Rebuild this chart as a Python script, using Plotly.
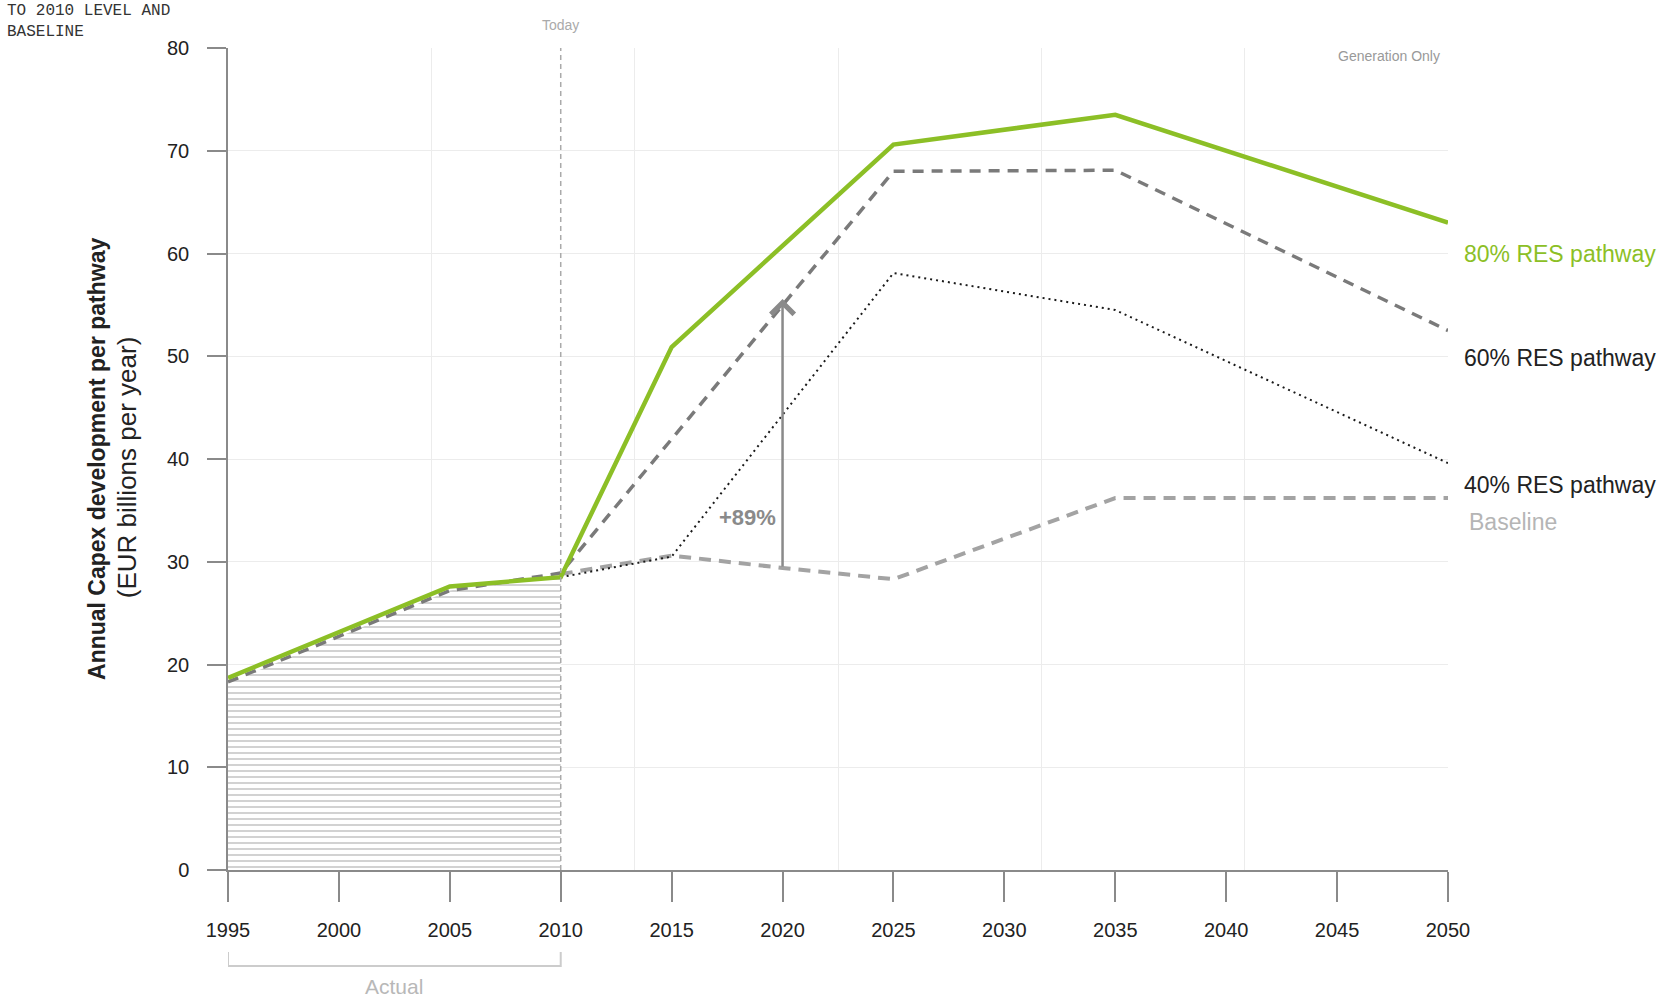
import plotly.graph_objects as go

# ---- data (EUR billions per year) ----
years_hist = [1995, 2005, 2010]
actual_hist = [18.2, 27.2, 28.9]

years_80 = [1995, 2005, 2010, 2015, 2025, 2035, 2050]
res80 = [18.7, 27.6, 28.5, 50.9, 70.6, 73.5, 63.0]

years_60 = [1995, 2005, 2010, 2025, 2035, 2050]
res60 = [18.3, 27.2, 28.9, 68.0, 68.1, 52.5]

years_40 = [2010, 2015, 2025, 2035, 2050]
res40 = [28.5, 30.5, 58.1, 54.5, 39.6]

years_base = [2010, 2015, 2020, 2025, 2035, 2050]
baseline = [28.8, 30.6, 29.4, 28.3, 36.2, 36.2]

x_ticks = [1995, 2000, 2005, 2010, 2015, 2020, 2025, 2030, 2035, 2040, 2045, 2050]
y_ticks = [0, 10, 20, 30, 40, 50, 60, 70, 80]

today_year = 2010
uplift_year = 2020
uplift_pct = 89

GREEN = "#8cbf26"
FONT = "Liberation Sans, Arial, sans-serif"

base_2020 = baseline[years_base.index(uplift_year)]
uplift_top = base_2020 * (1 + uplift_pct / 100)

fig = go.Figure()

# hatched area under the historical values
fig.add_trace(go.Scatter(
    x=years_hist, y=actual_hist, mode="lines", line=dict(width=0),
    fill="tozeroy", fillcolor="white",
    fillpattern=dict(shape="-", size=6, solidity=0.3, fgcolor="#9c9c9c", bgcolor="white"),
    hoverinfo="skip", showlegend=False,
))

fig.add_trace(go.Scatter(
    x=years_base, y=baseline, mode="lines", name="Baseline",
    line=dict(color="#a3a3a3", width=4, dash="12px,8px"), showlegend=False,
))
fig.add_trace(go.Scatter(
    x=years_40, y=res40, mode="lines", name="40% RES pathway",
    line=dict(color="#1a1a1a", width=2, dash="2px,4px"), showlegend=False,
))
fig.add_trace(go.Scatter(
    x=years_60, y=res60, mode="lines", name="60% RES pathway",
    line=dict(color="#7a7a7a", width=3.5, dash="11px,8px"), showlegend=False,
))
fig.add_trace(go.Scatter(
    x=years_80, y=res80, mode="lines", name="80% RES pathway",
    line=dict(color=GREEN, width=4.5), showlegend=False,
))

# invisible trace carrying the secondary grid axis
fig.add_trace(go.Scatter(x=[1995, 2050], y=[0, 0], xaxis="x2", mode="lines",
                         line=dict(width=0), hoverinfo="skip", showlegend=False))

# "Today" marker line
fig.add_shape(type="line", xref="x", yref="paper", x0=today_year, x1=today_year,
              y0=0, y1=1.0, line=dict(color="#aaaaaa", width=1.5, dash="5px,4px"))

# bracket under the historical period
fig.add_shape(type="path", xref="x", yref="paper",
              path=f"M {years_hist[0]},-0.0998 L {years_hist[0]},-0.1168 "
                   f"L {years_hist[-1]},-0.1168 L {years_hist[-1]},-0.0998",
              line=dict(color="#cccccc", width=2))

ann = []
# uplift arrow from baseline to 60% level
ann.append(dict(x=uplift_year, y=uplift_top, ax=uplift_year, ay=base_2020,
                xref="x", yref="y", axref="x", ayref="y", showarrow=True,
                arrowhead=4, arrowsize=1.8, arrowwidth=2.5, arrowcolor="#8a8a8a", text=""))
ann.append(dict(x=2018.4, y=34.3, xref="x", yref="y", showarrow=False,
                xanchor="center", yanchor="middle",
                text=f"<b>+{uplift_pct}%</b>", font=dict(family=FONT, size=22, color="#8a8a8a")))

# series labels on the right
ann.append(dict(x=1.0115, y=60.0, xref="paper", yref="y", xanchor="left", yanchor="middle",
                showarrow=False, text="80% RES pathway",
                font=dict(family=FONT, size=23, color=GREEN)))
ann.append(dict(x=1.0115, y=49.8, xref="paper", yref="y", xanchor="left", yanchor="middle",
                showarrow=False, text="60% RES pathway",
                font=dict(family=FONT, size=23, color="#222222")))
ann.append(dict(x=1.0115, y=37.5, xref="paper", yref="y", xanchor="left", yanchor="middle",
                showarrow=False, text="40% RES pathway",
                font=dict(family=FONT, size=23, color="#222222")))
ann.append(dict(x=1.0155, y=33.9, xref="paper", yref="y", xanchor="left", yanchor="middle",
                showarrow=False, text="Baseline",
                font=dict(family=FONT, size=23, color="#b5b5b5")))

# small notes
ann.append(dict(x=0.995, y=79.2, xref="paper", yref="y", xanchor="right", yanchor="middle",
                showarrow=False, text="Generation Only",
                font=dict(family=FONT, size=14, color="#999999")))
ann.append(dict(x=today_year, y=1.028, xref="x", yref="paper", xanchor="center",
                yanchor="middle", showarrow=False, text="Today",
                font=dict(family=FONT, size=14, color="#aaaaaa")))
ann.append(dict(x=(years_hist[0] + years_hist[-1]) / 2, y=-0.142, xref="x", yref="paper",
                xanchor="center", yanchor="middle", showarrow=False, text="Actual",
                font=dict(family=FONT, size=21, color="#b8b8b8")))

# y-axis title (two lines)
ann.append(dict(x=-0.1074, y=0.5, xref="paper", yref="paper", textangle=-90, showarrow=False,
                xanchor="center", yanchor="middle",
                text="<b>Annual Capex development per pathway</b>",
                font=dict(family=FONT, size=23, color="#222222")))
ann.append(dict(x=-0.0828, y=0.49, xref="paper", yref="paper", textangle=-90, showarrow=False,
                xanchor="center", yanchor="middle",
                text="(EUR billions per year)",
                font=dict(family=FONT, size=26, color="#222222")))

# truncated heading in the top-left corner
ann.append(dict(x=-0.1828, y=1.058, xref="paper", yref="paper", xanchor="left", yanchor="top",
                align="left", showarrow=False, text="TO 2010 LEVEL AND<br>BASELINE",
                font=dict(family="Liberation Mono, DejaVu Sans Mono, monospace", size=16,
                          color="#333333")))

fig.update_layout(
    width=1659, height=1001, autosize=False,
    margin=dict(l=228, r=211, t=48, b=131, pad=0),
    paper_bgcolor="white", plot_bgcolor="white",
    font=dict(family=FONT, size=20, color="#222222"),
    annotations=ann,
    xaxis=dict(range=[1995, 2050], tickvals=x_ticks, ticks="outside", ticklen=30,
               tickwidth=1.5, tickcolor="#8a8a8a", showline=True, linecolor="#8a8a8a",
               linewidth=1.5, showgrid=False, zeroline=False, ticklabelstandoff=11,
               tickfont=dict(size=20, color="#222222")),
    xaxis2=dict(range=[1995, 2050], overlaying="x", tick0=1995, dtick=55 / 6,
                showgrid=True, gridcolor="#ececec", gridwidth=1, showticklabels=False,
                ticks="", showline=False, zeroline=False),
    yaxis=dict(range=[0, 80], tickvals=y_ticks, ticks="outside", ticklen=19,
               tickwidth=1.5, tickcolor="#8a8a8a", showline=True, linecolor="#8a8a8a",
               linewidth=1.5, showgrid=True, gridcolor="#ececec", zeroline=False,
               ticklabelstandoff=14, tickfont=dict(size=20, color="#222222")),
)

fig.write_html("out.html")
